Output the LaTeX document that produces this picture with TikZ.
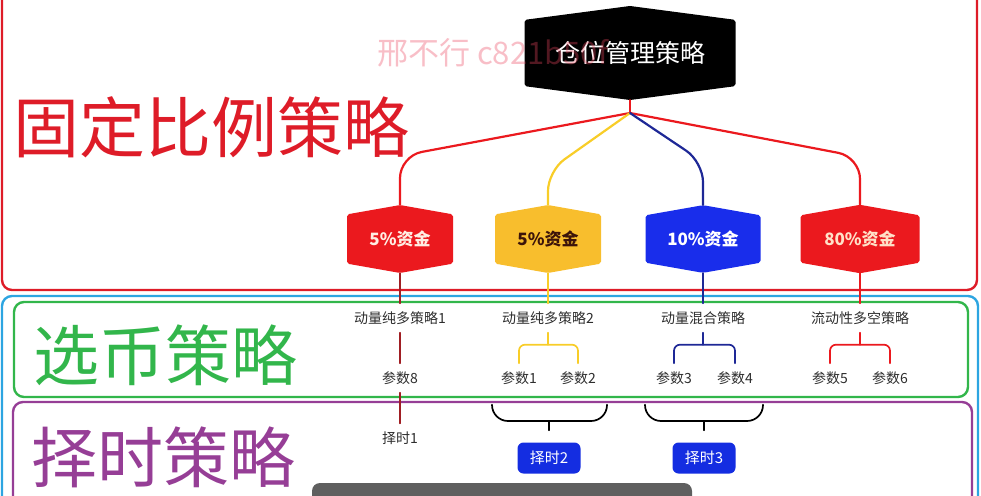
\documentclass[tikz,border=0pt]{standalone}
\usepackage{fontspec}
\setmainfont{Noto Sans CJK SC}
\usetikzlibrary{shapes.symbols,positioning,calc}
\definecolor{frameRed}{RGB}{222,28,40}
\definecolor{frameBlue}{RGB}{45,165,225}
\definecolor{frameGreen}{RGB}{50,182,75}
\definecolor{framePurple}{RGB}{150,62,150}
\definecolor{fundRed}{RGB}{235,25,30}
\definecolor{fundYellow}{RGB}{248,190,45}
\definecolor{fundBlue}{RGB}{25,45,235}
\definecolor{linkYellow}{RGB}{248,205,40}
\definecolor{linkBlue}{RGB}{30,40,150}
\definecolor{linkDark}{RGB}{160,30,35}
\definecolor{inkGray}{RGB}{45,45,45}
\definecolor{timeBlue}{RGB}{20,45,225}
\definecolor{barGray}{RGB}{95,95,95}
\definecolor{markPink}{RGB}{235,70,95}
\tikzset{
  fundhex/.style={shape=signal,signal to=north and south,signal pointer angle=160,
    inner sep=0pt,minimum width=#1,minimum height=60pt,rounded corners=2pt,
    font=\fontsize{17}{17}\selectfont\bfseries},
  lbl/.style={font=\fontsize{14}{14}\selectfont,text=inkGray,inner xsep=2pt,inner ysep=8pt},
  timebox/.style={fill=timeBlue,text=white,rounded corners=6pt,minimum width=63pt,
    minimum height=31pt,inner sep=0pt,font=\fontsize{15}{15}\selectfont},
  biglbl/.style={font=\fontsize{66}{66}\selectfont,inner sep=0pt},
  frame/.style={line width=2.4pt,rounded corners=10pt},
  link/.style={line width=2.2pt},
  bracketline/.style={line width=1.7pt,rounded corners=6pt}
}
\begin{document}
\begin{tikzpicture}[x=1pt,y=-1pt,line cap=round,line join=round]
\useasboundingbox (0,0) rectangle (981,495);
\clip (0,0) rectangle (981,495);
% the three bands
\draw[frame,frameRed] (2,-20) rectangle (977,290);
\draw[frame,frameBlue] (2,296) rectangle (978,520);
\draw[frame,frameGreen] (14,302) rectangle (968,397);
\draw[frame,framePurple] (13,402) rectangle (972,520);
\node[biglbl,text=frameRed] (fixlbl) at (211,127) {固定比例策略};
\node[biglbl,text=frameGreen] (coinlbl) at (165,355) {选币策略};
\node[biglbl,text=framePurple] (timelbl) at (163,457) {择时策略};
% root and fund shares
\node[fundhex=211pt,minimum height=86pt,signal pointer angle=165,fill=black,text=white,
  font=\fontsize{25}{25}\selectfont] (root) at (630,53) {仓位管理策略};
\node[fundhex=106pt,fill=fundRed,text={rgb,255:red,255;green,238;blue,228}] (f1) at (400,239) {5\%资金};
\node[fundhex=106pt,fill=fundYellow,text={rgb,255:red,60;green,20;blue,10}] (f2) at (548,239) {5\%资金};
\node[fundhex=115pt,fill=fundBlue,text=white] (f3) at (703,239) {10\%资金};
\node[fundhex=119pt,fill=fundRed,text={rgb,255:red,255;green,225;blue,200}] (f4) at (860,239) {80\%资金};
\coordinate (J) at (630,113);
\draw[link,fundRed] (root.south) -- (J);
\draw[link,fundRed,rounded corners=22pt] (J) -- (400,156) -- (f1.north);
\draw[link,fundRed,rounded corners=22pt] (J) -- (860,157) -- (f4.north);
\draw[link,linkYellow,rounded corners=20pt] (J) -- (548,171) -- (f2.north);
\draw[link,linkBlue,rounded corners=20pt] (J) -- (703,162) -- (f3.north);
% coin selection
\node[lbl] (m1) at (400,318) {动量纯多策略1};
\node[lbl] (m2) at (548,318) {动量纯多策略2};
\node[lbl] (m3) at (703,318) {动量混合策略};
\node[lbl] (m4) at (860,318) {流动性多空策略};
\draw[link,linkDark,line width=1.6pt] (f1.south) -- (m1.north);
\draw[link,linkYellow,line width=1.6pt] (f2.south) -- (m2.north);
\draw[link,linkBlue,line width=1.6pt] (f3.south) -- (m3.north);
\draw[link,fundRed,line width=1.6pt] (f4.south) -- (m4.north);
\node[lbl] (p8) at (400,378) {参数8};
\node[lbl] (p1) at (519,378) {参数1};
\node[lbl] (p2) at (578,378) {参数2};
\node[lbl] (p3) at (674,378) {参数3};
\node[lbl] (p4) at (735,378) {参数4};
\node[lbl] (p5) at (830,378) {参数5};
\node[lbl] (p6) at (890,378) {参数6};
\draw[bracketline,linkDark] (m1.south) -- (p8.north);
\coordinate (k2) at ($(m2.south)+(0,12)$);
\coordinate (k3) at ($(m3.south)+(0,12)$);
\coordinate (k4) at ($(m4.south)+(0,12)$);
\draw[bracketline,linkYellow] (p1.north) |- (k2) -| (p2.north);
\draw[bracketline,linkYellow] (m2.south) -- (k2);
\draw[bracketline,linkBlue] (p3.north) |- (k3) -| (p4.north);
\draw[bracketline,linkBlue] (m3.south) -- (k3);
\draw[bracketline,fundRed] (p5.north) |- (k4) -| (p6.north);
\draw[bracketline,fundRed] (m4.south) -- (k4);
% timing
\node[lbl] (t1) at (400,438) {择时1};
\node[timebox] (t2) at (549,458) {择时2};
\node[timebox] (t3) at (704,458) {择时3};
\draw[bracketline,linkDark] (p8.south) -- (t1.north);
\coordinate (b2) at (549,421);
\coordinate (b3) at (704,421);
\draw[bracketline,black,rounded corners=16pt] ($(p1.south)+(-27,12)$) |- (b2) -| ($(p2.south)+(29,12)$);
\draw[bracketline,black] (b2) -- ([yshift=12pt]t2.north);
\draw[bracketline,black,rounded corners=16pt] ($(p3.south)+(-29,12)$) |- (b3) -| ($(p4.south)+(28,12)$);
\draw[bracketline,black] (b3) -- ([yshift=12pt]t3.north);
% overlays
\fill[barGray,rounded corners=8pt] (312,483) rectangle (692,510);
\node[font=\fontsize{31}{31}\selectfont,text=markPink,text opacity=0.35,anchor=west,inner sep=0pt]
  (mark) at (377,53) {邢不行 c821b50f};
\end{tikzpicture}
\end{document}
